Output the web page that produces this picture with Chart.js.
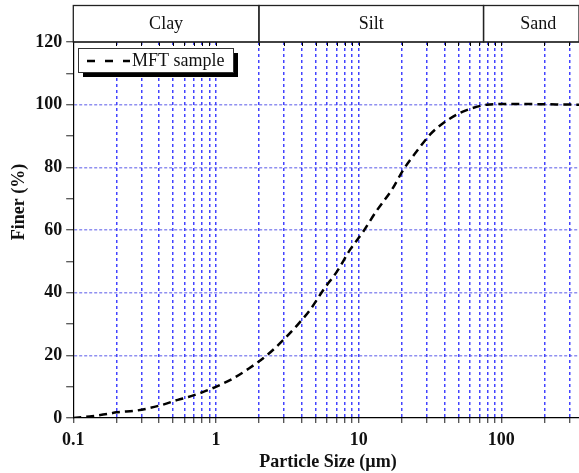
<!DOCTYPE html>
<html>
<head>
<meta charset="utf-8">
<script src="https://cdn.jsdelivr.net/npm/chart.js@4"></script>
<style>
    html, body { margin: 0; padding: 0; background: #fff; }
    #wrap { width: 579px; height: 473px; position: relative; }
</style>
</head>
<body>
<div id="wrap"><canvas id="psd"></canvas></div>
<script>
// Particle size (um) and percent finer
const sizes = [0.1, 0.13, 0.18, 0.2, 0.28, 0.42, 0.54, 0.64, 0.8, 0.98, 1.29, 1.7, 2.27, 2.98, 3.69, 4.58, 5.68, 7.05, 8.73, 10.8, 13.2, 17.1, 20.6, 25.6, 31.7, 39.4, 51.5, 63.8, 79, 100, 150, 220, 350];
const finer = [0, 0.5, 1.4, 1.8, 2.4, 4.2, 5.8, 6.7, 8.2, 9.8, 12.4, 15.8, 20, 25, 29.5, 34.6, 41, 46.8, 53.8, 59.6, 65.8, 72.9, 79.3, 85.2, 90.5, 94.2, 97.4, 99, 100, 100.2, 100.2, 100.1, 100];

const xTicks = [0.1, 0.2, 0.3, 0.4, 0.5, 0.6, 0.7, 0.8, 0.9, 1, 2, 3, 4, 5, 6, 7, 8, 9, 10, 20, 30, 40, 50, 60, 70, 80, 90, 100, 200, 300];
const xLabels = [0.1, 1, 10, 100];
const yTicks = [0, 10, 20, 30, 40, 50, 60, 70, 80, 90, 100, 110, 120];

// soil classes shown in the band above the plot (limits in um)
const classNames = ['Clay', 'Silt', 'Sand'];
const classLimits = [0.1, 2, 75, 350];

const serif = '"Liberation Serif", "DejaVu Serif", serif';

const decorPlugin = {
    id: 'decor',
    afterDraw(chart) {
        const ctx = chart.ctx;
        const area = chart.chartArea;
        const x = chart.scales.x;
        ctx.save();

        // top line of the plot
        ctx.strokeStyle = '#000';
        ctx.lineWidth = 1.2;
        ctx.beginPath();
        ctx.moveTo(area.left, area.top);
        ctx.lineTo(area.right, area.top);
        ctx.stroke();

        // small ticks on the top edge
        ctx.lineWidth = 1;
        xTicks.forEach(v => {
            const px = Math.round(x.getPixelForValue(v)) + 0.5;
            ctx.beginPath();
            ctx.moveTo(px, area.top);
            ctx.lineTo(px, area.top + 4);
            ctx.stroke();
        });

        // class band
        const bandTop = 5.5;
        ctx.lineWidth = 1.3;
        ctx.strokeStyle = '#222';
        ctx.font = '18px ' + serif;
        ctx.fillStyle = '#111';
        ctx.textAlign = 'center';
        ctx.textBaseline = 'middle';
        classNames.forEach((name, i) => {
            const x1 = x.getPixelForValue(classLimits[i]);
            const x2 = Math.min(x.getPixelForValue(classLimits[i + 1]), chart.width + 2);
            ctx.strokeRect(x1, bandTop, x2 - x1, area.top - bandTop);
            const xr = i === classNames.length - 1 ? 579 : x2;
            ctx.fillText(name, (x1 + xr) / 2 + (i === 2 ? 7 : 0), (bandTop + area.top) / 2 + 1);
        });

        // legend box with shadow
        const lx = 78, ly = 48, lw = 155, lh = 24;
        ctx.fillStyle = '#000';
        ctx.fillRect(lx + 5, ly + 5, lw, lh);
        ctx.fillStyle = '#fff';
        ctx.fillRect(lx, ly, lw, lh);
        ctx.strokeStyle = '#333';
        ctx.lineWidth = 1;
        ctx.strokeRect(lx + 0.5, ly + 0.5, lw, lh);
        ctx.strokeStyle = '#000';
        ctx.lineWidth = 2.5;
        ctx.setLineDash([8, 10]);
        ctx.beginPath();
        ctx.moveTo(87, ly + 13);
        ctx.lineTo(130, ly + 13);
        ctx.stroke();
        ctx.setLineDash([]);
        ctx.fillStyle = '#111';
        ctx.textAlign = 'left';
        ctx.font = '18px ' + serif;
        ctx.fillText(chart.data.datasets[0].label, 132, ly + 13);

        // axis titles
        ctx.font = 'bold 18px ' + serif;
        ctx.textAlign = 'center';
        ctx.fillText('Particle Size (\u00b5m)', 328, 462);
        ctx.translate(19, 202);
        ctx.rotate(-Math.PI / 2);
        ctx.fillText('Finer (%)', 0, 0);

        ctx.restore();
    }
};

const ctx = document.getElementById('psd').getContext('2d');
new Chart(ctx, {
    type: 'line',
    data: {
        datasets: [{
            label: 'MFT sample',
            data: sizes.map((s, i) => ({ x: s, y: finer[i] })),
            borderColor: '#000',
            borderWidth: 2.5,
            borderDash: [8, 5],
            pointRadius: 0,
            fill: false,
            cubicInterpolationMode: 'monotone'
        }]
    },
    options: {
        responsive: true,
        maintainAspectRatio: false,
        animation: false,
        layout: { padding: { top: 42, right: 0, left: 0, bottom: 0 } },
        plugins: {
            legend: { display: false },
            tooltip: { enabled: false }
        },
        scales: {
            x: {
                type: 'logarithmic',
                min: 0.1,
                max: 350,
                afterBuildTicks: scale => {
                    scale.ticks = xTicks.map(v => ({ value: v, major: xLabels.includes(v) }));
                },
                afterFit: scale => { scale.height = 55; },
                border: { color: '#000', width: 1.2, dash: [3, 3] },
                grid: {
                    color: c => c.tick && c.tick.value === 0.1 ? 'rgba(0,0,0,0)' : 'rgba(20,20,255,0.8)',
                    lineWidth: 1.5,
                    tickColor: '#000',
                    tickWidth: 1,
                    tickLength: 5,
                    tickBorderDash: [1, 0]
                },
                ticks: {
                    autoSkip: false,
                    maxRotation: 0,
                    padding: 7,
                    color: '#111',
                    font: { family: serif, size: 18, weight: 'bold' },
                    callback: v => xLabels.includes(v) ? String(v) : ''
                }
            },
            y: {
                min: 0,
                max: 120,
                afterBuildTicks: scale => {
                    scale.ticks = yTicks.map(v => ({ value: v }));
                },
                afterFit: scale => { scale.width = 73.3; },
                border: { color: '#000', width: 1.2, dash: [3, 2] },
                grid: {
                    color: c => (c.tick && c.tick.value % 20 === 0 && c.tick.value > 0 && c.tick.value < 120) ? 'rgba(70,70,230,0.6)' : 'rgba(0,0,0,0)',
                    lineWidth: 1.5,
                    tickColor: '#000',
                    tickWidth: 1,
                    tickLength: 7,
                    tickBorderDash: [1, 0]
                },
                ticks: {
                    autoSkip: false,
                    padding: 4,
                    color: '#111',
                    font: { family: serif, size: 18, weight: 'bold' },
                    callback: v => v % 20 === 0 ? String(v) : ''
                }
            }
        }
    },
    plugins: [decorPlugin]
});
</script>
</body>
</html>
